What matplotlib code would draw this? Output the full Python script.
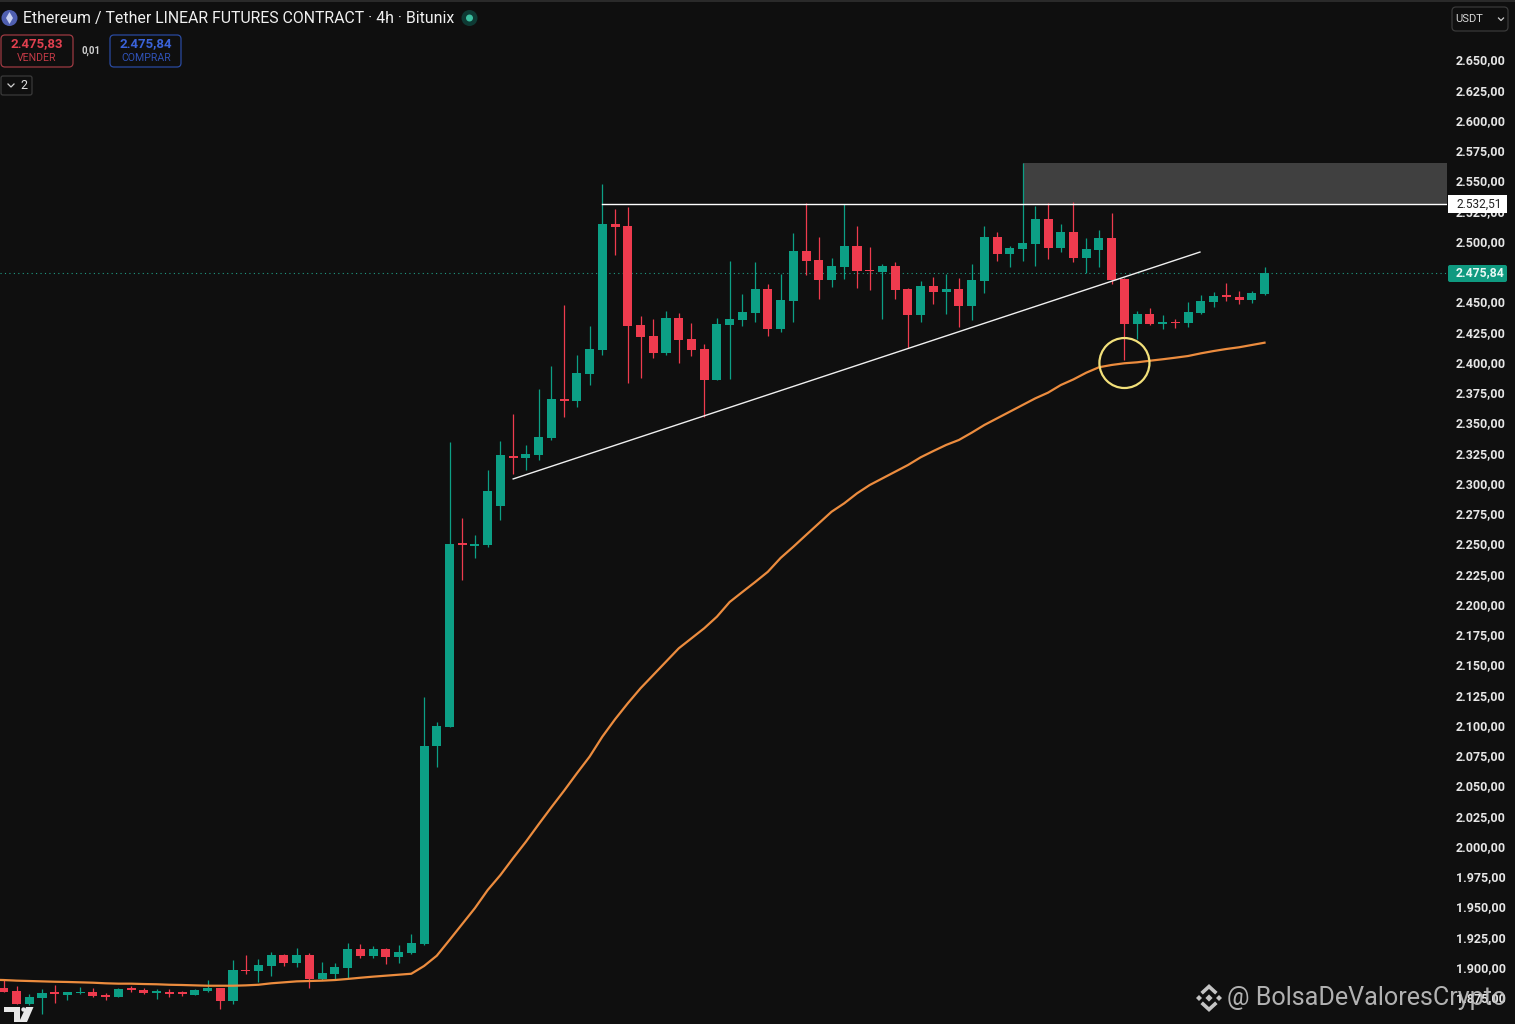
import numpy as np
import matplotlib
matplotlib.use('Agg')
import matplotlib.pyplot as plt
from matplotlib.patches import Ellipse, FancyBboxPatch, Circle, Polygon, Rectangle
from matplotlib.transforms import ScaledTranslation

#============================================================================#
# ETH/USDT 4h candles
#============================================================================#
opens = [1883.3, 1881.1, 1870.3, 1875.2, 1879.6, 1877.7, 1879.4, 1880.2, 1877.7, 1876.1,
         1883.3, 1882.1, 1879.6, 1880.5, 1879.6, 1877.7, 1880.8, 1883.5, 1872.5, 1898.4,
         1897.6, 1901.7, 1910.8, 1903.9, 1910.8, 1890.7, 1895.1, 1900.0, 1915.7, 1909.9,
         1915.7, 1909.1, 1912.5, 1919.9, 2083.5, 2099.2, 2251.3, 2248.8, 2249.6, 2281.8,
         2323.2, 2321.5, 2324.0, 2338.0, 2370.0, 2368.9, 2390.9, 2410.8, 2514.6, 2513.2,
         2431.4, 2422.3, 2408.3, 2437.2, 2419.9, 2411.6, 2386.0, 2431.4, 2435.6, 2441.3,
         2461.2, 2428.1, 2451.3, 2492.6, 2485.1, 2468.6, 2479.4, 2496.7, 2476.9, 2475.2,
         2480.2, 2461.2, 2439.7, 2463.6, 2458.7, 2461.2, 2447.1, 2467.8, 2504.1, 2490.1,
         2494.2, 2498.4, 2519.0, 2495.0, 2508.3, 2486.8, 2493.4, 2503.3, 2469.4, 2432.2,
         2440.5, 2432.2, 2433.9, 2433.1, 2441.3, 2450.4, 2455.4, 2454.6, 2452.1, 2457.0]
highs = [1890.1, 1885.2, 1878.6, 1882.4, 1886.0, 1880.2, 1884.6, 1883.5, 1879.1, 1883.3,
         1885.2, 1883.3, 1882.9, 1882.4, 1881.3, 1882.7, 1890.1, 1883.8, 1906.7, 1910.8,
         1907.2, 1913.3, 1911.6, 1916.6, 1912.7, 1905.3, 1903.9, 1920.9, 1919.9, 1918.2,
         1916.2, 1919.3, 1928.1, 2124.0, 2103.3, 2334.7, 2271.9, 2257.9, 2311.6, 2335.6,
         2357.9, 2332.3, 2378.5, 2397.5, 2448.0, 2406.6, 2430.6, 2547.9, 2527.0, 2528.7,
         2438.9, 2436.4, 2443.0, 2441.6, 2433.3, 2415.7, 2437.2, 2484.6, 2457.0, 2483.7,
         2465.0, 2473.6, 2507.7, 2532.2, 2504.4, 2487.0, 2531.2, 2513.2, 2495.9, 2481.8,
         2483.5, 2462.0, 2467.8, 2471.3, 2473.6, 2470.3, 2481.8, 2513.2, 2508.3, 2496.7,
         2565.3, 2529.8, 2532.5, 2514.9, 2533.3, 2503.3, 2509.9, 2524.0, 2470.3, 2443.0,
         2445.5, 2439.7, 2436.4, 2450.4, 2456.2, 2458.7, 2466.4, 2459.5, 2459.5, 2479.4]
lows = [1880.2, 1869.9, 1869.5, 1861.8, 1871.4, 1873.6, 1878.6, 1876.3, 1873.6, 1875.8,
        1880.2, 1878.6, 1874.2, 1875.8, 1876.9, 1877.5, 1880.5, 1866.2, 1870.3, 1895.1,
        1888.7, 1893.4, 1902.0, 1901.1, 1883.5, 1890.1, 1890.1, 1891.8, 1908.3, 1908.3,
        1903.3, 1903.9, 1912.0, 1919.1, 2066.2, 2098.8, 2220.7, 2238.9, 2248.0, 2270.3,
        2308.3, 2311.6, 2319.9, 2336.4, 2355.6, 2363.9, 2381.8, 2406.6, 2489.3, 2383.5,
        2387.6, 2404.2, 2406.6, 2400.3, 2405.8, 2355.6, 2385.6, 2386.8, 2430.6, 2433.9,
        2422.6, 2425.9, 2433.9, 2472.7, 2452.9, 2463.1, 2469.2, 2462.2, 2460.3, 2436.4,
        2452.9, 2412.4, 2433.9, 2448.8, 2440.5, 2430.0, 2435.6, 2457.9, 2484.3, 2479.4,
        2484.3, 2480.2, 2486.0, 2491.7, 2483.5, 2474.6, 2479.4, 2465.3, 2402.5, 2419.9,
        2431.8, 2428.1, 2428.9, 2429.8, 2440.9, 2446.3, 2451.3, 2448.8, 2449.6, 2456.6]
closes = [1880.5, 1870.3, 1875.8, 1879.4, 1878.8, 1880.2, 1880.2, 1876.9, 1875.8, 1882.7,
          1882.1, 1879.4, 1880.8, 1878.6, 1878.8, 1882.1, 1883.5, 1872.8, 1898.4, 1897.6,
          1902.5, 1910.8, 1903.9, 1910.8, 1890.7, 1895.9, 1901.1, 1915.7, 1909.9, 1915.7,
          1909.1, 1913.3, 1920.7, 2083.5, 2100.0, 2250.4, 2249.6, 2250.4, 2294.2, 2324.0,
          2321.5, 2324.8, 2338.9, 2370.5, 2368.6, 2391.5, 2411.6, 2514.9, 2512.4, 2430.6,
          2421.8, 2408.3, 2437.2, 2419.0, 2410.8, 2386.0, 2432.2, 2436.4, 2442.2, 2461.2,
          2428.1, 2452.1, 2492.6, 2484.3, 2468.6, 2480.2, 2496.7, 2476.0, 2476.0, 2480.2,
          2460.3, 2439.7, 2463.6, 2458.7, 2461.2, 2447.1, 2468.6, 2504.1, 2490.1, 2495.0,
          2499.2, 2519.0, 2495.0, 2508.3, 2486.8, 2494.2, 2503.3, 2468.6, 2432.2, 2440.5,
          2432.2, 2433.9, 2432.8, 2442.2, 2451.3, 2455.4, 2454.6, 2452.1, 2457.9, 2474.4]

# orange moving average, one value per candle, first one is the bar cut off at the left edge
ema_val = [1890.4, 1890.1, 1889.6, 1889.3, 1889.0, 1888.7, 1888.5, 1888.2, 1887.9, 1887.4, 1887.1,
           1887.1, 1886.8, 1886.6, 1886.2, 1886.0, 1885.7, 1885.4, 1885.4, 1885.4, 1885.7,
           1886.2, 1887.4, 1888.2, 1889.0, 1889.3, 1889.6, 1890.1, 1891.0, 1892.0, 1892.9,
           1893.7, 1894.5, 1895.3, 1901.7, 1910.2, 1923.2, 1936.4, 1949.6, 1964.5, 1976.9,
           1990.9, 2004.4, 2018.8, 2032.9, 2046.6, 2060.9, 2074.7, 2091.2, 2105.6, 2118.8,
           2131.2, 2142.2, 2153.2, 2164.2, 2172.5, 2180.8, 2190.4, 2202.5, 2210.8, 2219.0,
           2227.5, 2238.9, 2248.2, 2257.9, 2267.5, 2277.1, 2284.1, 2292.3, 2299.2, 2304.7,
           2310.2, 2315.7, 2322.1, 2327.3, 2332.3, 2336.4, 2342.4, 2348.8, 2354.3, 2359.8,
           2365.3, 2370.8, 2375.5, 2381.8, 2386.5, 2392.0, 2396.5, 2398.4, 2399.8, 2400.6,
           2401.9, 2403.1, 2404.4, 2405.8, 2408.0, 2409.9, 2411.6, 2413.0, 2414.9, 2416.8]
ema_idx = np.arange(-1, len(ema_val) - 1)

# hand drawn stuff on the chart
trend_idx = [40, 93.93]
trend_val = [2304.2, 2491.7]
level_price = 2531.4
level_start = 47
zone_start = 80
zone_top = 2565.3
last_line = 2474.1
circle_idx = 88
circle_price = 2400.0

yticks = list(range(1875, 2651, 25))
ytick_labels = [f"{v:,.2f}".replace(',', 'X').replace('.', ',').replace('X', '.') for v in yticks]

title = 'Ethereum / Tether LINEAR FUTURES CONTRACT · 4h · Bitunix'
level_label = '2.532,51'
last_label = '2.475,84'
sell_price = '2.475,83'
buy_price = '2.475,84'
spread = '0,01'
watermark = '@ BolsaDeValoresCrypto'

#============================================================================#
BG = '#0f0f0f'
GREEN = '#0c9f85'
RED = '#ee3b4e'
plt.rcParams['font.family'] = ['Roboto', 'DejaVu Sans']

fig = plt.figure(figsize=(15.15, 10.24), dpi=100, facecolor=BG)
ax = fig.add_axes([0, 0, 1447 / 1515, 1], facecolor=BG)
ax.set_xlim(-0.298, 113.33)
ax.set_ylim(1853.77, 2700)
for s in ax.spines.values():
    s.set_visible(False)
ax.xaxis.set_visible(False)
ax.yaxis.tick_right()
ax.set_yticks(yticks, ytick_labels)
ax.tick_params(axis='y', length=0, pad=6.5, labelsize=9, labelcolor='#e6e6e6')
for lab in ax.get_yticklabels():
    lab.set_fontweight('bold')
    # scale labels sit a pixel above their price
    lab.set_transform(lab.get_transform() + ScaledTranslation(0, 1 / 100, fig.dpi_scale_trans))

idx = np.arange(len(opens))
o = np.array(opens)
c = np.array(closes)
colors = [GREEN if c[i] >= o[i] else RED for i in idx]

ax.axhline(last_line, color='#1f9c84', lw=0.8, ls=(0, (1, 3)), zorder=1)
ax.add_patch(Rectangle((zone_start, level_price), ax.get_xlim()[1] - zone_start, zone_top - level_price,
                       facecolor='#404040', edgecolor='none', zorder=1))
ax.vlines(idx, lows, highs, colors=colors, lw=0.9, zorder=2)
ax.bar(idx, np.maximum(np.abs(c - o), 1.2), bottom=np.minimum(o, c), width=0.71, color=colors, zorder=3)

ax.plot(ema_idx, ema_val, color='#ec8c3e', lw=1.6, zorder=4)
ax.plot([level_start, ax.get_xlim()[1]], [level_price, level_price], color='white', lw=1.0, zorder=4)
ax.plot(trend_idx, trend_val, color='#f0f0f0', lw=1.0, zorder=4)
ax.add_patch(Ellipse((circle_idx, circle_price), 3.93, 41.3, fill=False, edgecolor='#f2e07a', lw=1.6, zorder=5))

# overlay in screen pixels for the TradingView chrome
ui = fig.add_axes([0, 0, 1, 1], facecolor='none')
ui.set_xlim(0, 1515)
ui.set_ylim(1024, 0)
ui.axis('off')


def box(x0, y0, x1, y1, edge, face='none', r=4):
    ui.add_patch(FancyBboxPatch((x0 + r, y0 + r), x1 - x0 - 2 * r, y1 - y0 - 2 * r,
                                boxstyle='round,pad={},rounding_size={}'.format(r, r),
                                edgecolor=edge, facecolor=face, lw=0.9))


ui.add_patch(Rectangle((0, 0), 1515, 1.5, facecolor='#2a2a2a', edgecolor='none'))

# title row
ui.add_patch(Circle((9.5, 18), 8, facecolor='#4f5fb0', edgecolor='none'))
ui.add_patch(Polygon([(9.5, 12), (13, 18), (9.5, 24), (6, 18)], facecolor='#c8d0f0', edgecolor='none'))
ui.text(23, 18, title, color='#f0f0f0', fontsize=11.45, va='center', ha='left')
ui.add_patch(Circle((469.5, 18), 8, facecolor='#0e3a34', edgecolor='none'))
ui.add_patch(Circle((469.5, 18), 3.5, facecolor='#3cbfa0', edgecolor='none'))

# sell / buy
box(1, 35, 73, 67, '#9c3a42')
ui.text(37, 44, sell_price, color='#e0404f', fontsize=9.5, fontweight='bold', ha='center', va='center')
ui.text(37, 58, 'VENDER', color='#c23a46', fontsize=7.6, ha='center', va='center')
ui.text(91.5, 50.5, spread, color='#d0d0d0', fontsize=7, fontweight='bold', ha='center', va='center')
box(110, 35, 181, 67, '#2a4aa0')
ui.text(146, 44, buy_price, color='#3a62d8', fontsize=9.5, fontweight='bold', ha='center', va='center')
ui.text(146, 58, 'COMPRAR', color='#2f52b8', fontsize=7.6, ha='center', va='center')

box(1, 76, 32, 95, '#3a3a3a', r=2)
ui.plot([8, 11, 14], [84, 87, 84], color='#cfcfcf', lw=0.9)
ui.text(24, 85.5, '2', color='#e0e0e0', fontsize=9, ha='center', va='center')

# currency button
box(1452, 7, 1508, 31, '#3a3a3a')
ui.text(1455, 19, 'USDT', color='#d8d8d8', fontsize=8, ha='left', va='center')
ui.plot([1498.5, 1501, 1503.5], [18, 20.5, 18], color='#cfcfcf', lw=0.9)

# price labels on the scale
ui.add_patch(Rectangle((1448, 195), 59, 18, facecolor='white', edgecolor='none', zorder=6))
ui.text(1479, 204, level_label, color='#222222', fontsize=8.6, ha='center', va='center', zorder=7)
ui.add_patch(FancyBboxPatch((1449, 266), 57, 15, boxstyle='round,pad=1,rounding_size=2',
                            facecolor='#0f9a80', edgecolor='none', zorder=6))
ui.text(1479.5, 273, last_label, color='#e8f8f4', fontsize=8.8, fontweight='bold', ha='center', va='center', zorder=7)

# TV logo
ui.add_patch(Polygon([(4, 1007), (20, 1007), (20, 1022), (14, 1022), (14, 1012), (4, 1012)],
                     facecolor='#e8e8e8', edgecolor='none'))
ui.add_patch(Circle((23.5, 1009.5), 2.2, facecolor='#e8e8e8', edgecolor='none'))
ui.add_patch(Polygon([(26, 1007), (33.5, 1007), (27, 1022), (19, 1022)], facecolor='#e8e8e8', edgecolor='none'))

# watermark, binance mark + handle
wm = '#c4c4c4'
for cx, cy, r in [(1199, 998, 3), (1219, 998, 3), (1209, 998, 3.6)]:
    ui.add_patch(Polygon([(cx - r, cy), (cx, cy - r), (cx + r, cy), (cx, cy + r)], facecolor=wm, edgecolor='none', zorder=8))
ui.plot([1203, 1209, 1215], [992, 986.5, 992], color=wm, lw=2.6, solid_joinstyle='miter', zorder=8)
ui.plot([1203, 1209, 1215], [1004, 1009.5, 1004], color=wm, lw=2.6, solid_joinstyle='miter', zorder=8)
ui.text(1227, 998, watermark, color=wm, fontsize=18.05, ha='left', va='center', alpha=0.9, zorder=8)

fig.savefig('out.png', dpi=100, facecolor=BG)
